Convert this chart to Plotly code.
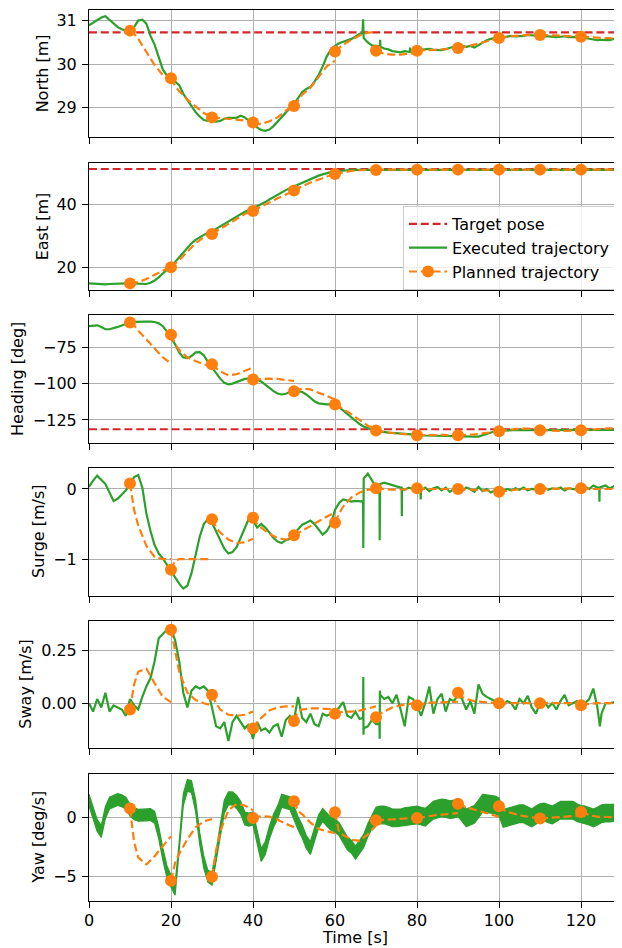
import plotly.graph_objects as go

# ---------------- data ----------------
t_sec = list(range(0, 131))
plan_starts = [10, 20, 30, 40, 50, 60, 70, 80, 90, 100, 110, 120]
marker_times = [10, 20, 30, 40, 50, 60, 70, 80, 90, 100, 110, 120, 130]
seg_offsets = [0, 1, 2, 4, 6, 8, 10]

target_north = 30.73
target_east = 51.2
target_heading = -131.4

north_exec = [30.89, 30.95, 31.03, 31.07, 31.10, 31.02, 30.92, 30.85, 30.80, 30.77,
              30.76, 30.85, 31.00, 31.02, 30.93, 30.65, 30.45, 30.15, 29.88, 29.74,
              29.65, 29.60, 29.52, 29.32, 29.17, 29.03, 28.90, 28.80, 28.72, 28.70,
              28.70, 28.68, 28.70, 28.75, 28.77, 28.77, 28.77, 28.82, 28.78, 28.70,
              28.65, 28.55, 28.49, 28.47, 28.50, 28.58, 28.68, 28.78, 28.88, 28.98,
              29.10, 29.22, 29.36, 29.43, 29.48, 29.60, 29.75, 29.95, 30.18, 30.33,
              30.42, 30.48, 30.52, 30.55, 30.58, 30.63, 30.70, 30.60, 30.50, 30.43,
              30.42, 30.40, 30.36, 30.34, 30.30, 30.28, 30.27, 30.30, 30.28, 30.31,
              30.32, 30.33, 30.33, 30.35, 30.33, 30.33, 30.32, 30.35, 30.37, 30.40,
              30.40, 30.42, 30.40, 30.42, 30.38, 30.44, 30.50, 30.55, 30.58, 30.60,
              30.60, 30.62, 30.64, 30.65, 30.64, 30.64, 30.65, 30.67, 30.66, 30.65,
              30.65, 30.64, 30.64, 30.63, 30.62, 30.63, 30.64, 30.62, 30.62, 30.62,
              30.62, 30.60, 30.58, 30.56, 30.55, 30.56, 30.55, 30.55, 30.58, 30.58,
              30.57]
north_spike_t = [66.7, 66.85, 66.95, 70.95, 71.0, 71.1, 78.25, 78.3, 78.35]
north_spike_v = [30.71, 31.03, 30.62, 30.41, 30.56, 30.40, 30.28, 30.38, 30.29]

east_exec = [14.9, 14.8, 14.7, 14.6, 14.6, 14.7, 14.8, 14.8, 14.9, 14.9,
             14.9, 14.8, 14.7, 14.6, 14.7, 15.1, 15.8, 16.8, 18.0, 19.2,
             20.3, 21.7, 23.2, 24.7, 26.2, 27.6, 28.7, 29.6, 30.3, 30.9,
             31.5, 32.2, 33.0, 33.8, 34.6, 35.4, 36.2, 37.0, 37.6, 38.1,
             38.7, 39.3, 40.0, 40.7, 41.5, 42.3, 43.1, 43.8, 44.5, 45.1,
             45.7, 46.3, 46.9, 47.5, 48.1, 48.6, 49.1, 49.5, 49.9, 50.2,
             50.4, 50.6, 50.7, 50.8, 50.9, 50.9, 51.0, 51.0, 50.9, 50.9,
             50.9, 50.9, 50.9, 50.9, 50.9, 50.9, 50.9, 50.9, 50.9, 50.9,
             50.9, 50.9, 50.9, 50.9, 50.9, 50.9, 50.9, 50.9, 50.9, 50.9,
             50.9, 50.9, 50.9, 50.9, 50.9, 50.9, 50.9, 50.9, 50.9, 50.9,
             50.9, 50.9, 50.9, 50.9, 50.9, 50.9, 50.9, 50.9, 50.9, 50.9,
             50.9, 50.9, 50.9, 50.9, 50.9, 50.9, 50.9, 50.9, 50.9, 50.9,
             50.9, 50.9, 50.9, 50.9, 50.9, 50.9, 50.9, 50.9, 50.9, 50.9,
             50.9]

heading_exec = [-60.5, -60.0, -59.9, -61.0, -62.5, -62.6, -62.0, -61.0, -60.0, -58.8,
                -58.0, -57.5, -57.3, -57.3, -57.3, -57.4, -57.6, -58.5, -60.5, -64.0,
                -68.0, -73.0, -78.5, -82.0, -82.5, -81.0, -78.5, -78.3, -80.5, -85.0,
                -89.0, -93.0, -96.6, -99.5, -100.5, -100.0, -98.9, -97.8, -96.8, -96.5,
                -96.6, -97.2, -98.5, -100.5, -103.0, -105.2, -106.8, -107.5, -107.0, -105.8,
                -105.2, -105.2, -105.8, -107.5, -110.0, -112.2, -113.6, -114.2, -114.3, -114.3,
                -114.6, -116.2, -118.5, -121.0, -123.5, -125.8, -127.8, -129.5, -130.8, -131.8,
                -132.5, -133.0, -133.4, -133.7, -133.9, -134.2, -134.5, -134.8, -135.0, -135.2,
                -135.4, -135.5, -135.7, -135.8, -136.0, -136.0, -136.0, -136.0, -136.0, -136.0,
                -136.1, -136.2, -136.3, -136.4, -136.5, -136.5, -135.5, -134.3, -133.4, -132.8,
                -132.4, -132.2, -132.0, -132.0, -131.9, -131.9, -132.0, -132.0, -131.9, -131.8,
                -131.8, -131.9, -132.0, -132.0, -131.9, -131.9, -131.9, -132.0, -132.0, -131.9,
                -131.9, -131.8, -131.8, -131.9, -132.0, -132.0, -131.9, -131.8, -131.8, -131.9,
                -131.9]

surge_exec = [0.03, 0.12, 0.19, 0.13, 0.07, -0.05, -0.17, -0.14, -0.08, -0.02,
              0.06, 0.17, 0.20, 0.02, -0.35, -0.60, -0.80, -0.92, -0.99, -1.08,
              -1.17, -1.26, -1.35, -1.42, -1.38, -1.20, -0.92, -0.68, -0.50, -0.43,
              -0.48, -0.60, -0.73, -0.85, -0.92, -0.90, -0.83, -0.70, -0.55, -0.42,
              -0.45, -0.55, -0.50, -0.55, -0.62, -0.70, -0.75, -0.77, -0.73, -0.71,
              -0.64, -0.57, -0.51, -0.48, -0.45, -0.50, -0.57, -0.65, -0.60, -0.50,
              -0.30, -0.20, -0.15, -0.16, -0.18, -0.17, -0.18, 0.15, 0.22, 0.12,
              0.03, 0.07, 0.09, 0.07, 0.06, 0.04, 0.02, -0.01, 0.02, 0.00,
              0.01, -0.02, 0.02, -0.03, 0.01, 0.03, -0.02, 0.02, -0.04, 0.00,
              0.01, -0.03, 0.02, 0.00, -0.04, 0.03, -0.03, 0.00, -0.05, -0.02,
              -0.04, -0.03, 0.00, -0.02, 0.01, -0.01, 0.02, -0.02, 0.00, -0.01,
              0.00, 0.02, -0.01, 0.01, 0.00, 0.02, -0.02, 0.01, 0.00, -0.01,
              0.01, 0.03, 0.00, 0.05, 0.02, 0.03, 0.05, 0.01, 0.04, -0.01,
              0.01]
surge_spike_t = [66.85, 66.9, 66.95, 70.85, 70.9, 70.95, 76.25, 76.3, 76.35,
                 80.85, 80.9, 80.95, 124.45, 124.5, 124.55]
surge_spike_v = [-0.18, -0.84, -0.30, 0.04, -0.73, 0.05, 0.02, -0.39, 0.00,
                 0.00, -0.15, 0.00, 0.02, -0.18, 0.02]

sway_exec = [0.00, -0.04, 0.02, -0.02, 0.05, -0.04, -0.01, -0.02, -0.03, -0.06,
             0.02, -0.01, -0.03, 0.03, 0.08, 0.12, 0.20, 0.31, 0.33, 0.35,
             0.36, 0.30, 0.20, 0.05, -0.02, 0.06, 0.08, 0.07, 0.08, 0.06,
             -0.02, -0.11, -0.12, -0.09, -0.18, -0.09, -0.06, -0.09, -0.12, -0.10,
             -0.17, -0.09, -0.13, -0.12, -0.14, -0.11, -0.10, -0.16, -0.08, -0.06,
             -0.08, 0.03, -0.07, -0.09, -0.05, -0.10, -0.11, -0.05, -0.06, -0.05,
             -0.04, -0.02, 0.005, -0.06, -0.07, -0.04, -0.075, -0.12, -0.11, -0.08,
             -0.10, 0.04, 0.02, 0.03, 0.00, 0.04, -0.03, -0.11, 0.03, 0.02,
             -0.01, -0.06, 0.00, 0.08, -0.05, 0.02, 0.045, -0.04, 0.02, 0.01,
             0.04, 0.02, -0.03, 0.01, -0.05, 0.09, 0.045, 0.03, 0.02, 0.01,
             0.00, -0.01, 0.01, 0.00, -0.03, 0.02, 0.00, 0.035, -0.02, -0.05,
             0.00, 0.01, -0.02, 0.00, -0.03, 0.01, 0.04, -0.01, 0.00, 0.01,
             -0.01, 0.00, 0.02, 0.07, -0.02, -0.05, 0.00, 0.00, 0.005, 0.01,
             0.01]
sway_spike_t = [66.85, 66.9, 66.95, 70.85, 70.9, 70.95, 124.6]
sway_spike_v = [-0.07, 0.125, -0.15, -0.10, -0.17, 0.06, -0.11]

yaw_mid = [1.45, 0.4, -0.7, -1.2, 0.4, 1.2, 1.35, 1.5, 1.4, 1.2,
           0.6, 0.3, 0.17, 0.17, 0.2, 0.23, 0.0, -1.3, -3.1, -4.6,
           -5.4, -6.1, -2.6, 1.5, 2.7, 2.6, 1.0, -1.8, -3.8, -5.0,
           -5.2, -3.4, -1.2, 0.9, 1.6, 1.6, 1.3, 0.8, -0.1, -0.2,
           -0.1, -1.6, -3.2, -2.6, -1.3, -0.3, 0.4, 1.4, 1.3, 1.2,
           0.4, -0.5, -1.2, -2.1, -2.6, -1.5, -0.35, 0.2, -0.2, -0.55,
           -0.7, -1.0, -1.6, -2.2, -2.5, -3.0, -2.5, -2.0, -1.1, -0.4,
           0.1, 0.2, 0.2, 0.1, -0.05, -0.05, -0.05, 0.05, 0.1, 0.15,
           0.2, 0.1, 0.0, 0.3, 0.6, 0.7, 0.8, 0.75, 0.65, 0.7,
           0.8, 0.4, -0.06, 0.1, 0.25, 0.7, 1.2, 1.15, 1.1, 1.05,
           0.9, -0.1, 0.0, 0.1, 0.2, 0.3, 0.3, 0.1, -0.05, 0.2,
           0.4, 0.45, 0.3, 0.2, 0.4, 0.6, 0.6, 0.6, 0.6, 0.4,
           0.25, 0.2, 0.1, -0.05, 0.1, 0.3, 0.35, 0.35, 0.37, 0.45,
           0.5]
yaw_spread = [0.5] * 30 + [0.55] * 40 + [0.75] * 61

north_plan = [[30.77, 30.70, 30.58, 30.28, 29.98, 29.75, 29.64],
              [29.68, 29.50, 29.38, 29.19, 29.03, 28.88, 28.78],
              [28.78, 28.77, 28.76, 28.75, 28.73, 28.71, 28.69],
              [28.66, 28.63, 28.63, 28.69, 28.78, 28.92, 29.08],
              [29.04, 29.17, 29.30, 29.46, 29.70, 29.95, 30.08],
              [30.29, 30.37, 30.45, 30.56, 30.66, 30.72, 30.75],
              [30.31, 30.27, 30.24, 30.22, 30.22, 30.24, 30.26],
              [30.31, 30.31, 30.32, 30.33, 30.34, 30.35, 30.36],
              [30.37, 30.38, 30.40, 30.45, 30.50, 30.55, 30.58],
              [30.60, 30.62, 30.63, 30.65, 30.67, 30.68, 30.68],
              [30.67, 30.67, 30.66, 30.66, 30.65, 30.64, 30.63],
              [30.63, 30.63, 30.62, 30.61, 30.60, 30.59, 30.58]]
north_marks = [30.77, 29.68, 28.78, 28.66, 29.04, 30.29, 30.31, 30.31, 30.37, 30.60, 30.67, 30.63, 30.58]

east_plan = [[14.9, 15.0, 15.3, 16.3, 17.6, 18.9, 20.2],
             [20.0, 21.1, 22.3, 25.0, 27.6, 29.6, 31.0],
             [30.6, 31.4, 32.2, 33.9, 35.5, 36.9, 38.1],
             [37.9, 38.6, 39.3, 40.6, 41.9, 43.1, 44.2],
             [44.4, 45.1, 45.7, 46.9, 47.9, 48.8, 49.5],
             [49.6, 49.9, 50.2, 50.6, 50.8, 50.9, 51.0],
             [50.9, 51.0, 51.0, 51.0, 51.0, 51.0, 51.0],
             [51.0, 51.0, 51.0, 51.0, 51.0, 51.0, 51.0],
             [51.0, 51.0, 51.0, 51.0, 51.0, 51.0, 51.0],
             [51.0, 51.0, 51.0, 51.0, 51.0, 51.0, 51.0],
             [51.0, 51.0, 51.0, 51.0, 51.0, 51.0, 51.0],
             [51.0, 51.0, 51.0, 51.0, 51.0, 51.0, 51.0]]
east_marks = [14.9, 20.0, 30.6, 37.9, 44.4, 49.6, 50.9, 51.0, 51.0, 51.0, 51.0, 51.0, 51.0]

heading_plan = [[-58.0, -59.7, -63.5, -69.5, -76.2, -82.0, -86.0],
                [-66.3, -72.5, -77.0, -82.0, -84.5, -86.7, -88.0],
                [-86.7, -89.5, -91.5, -94.3, -93.5, -91.0, -89.0],
                [-97.2, -97.0, -96.8, -96.6, -96.8, -97.5, -98.2],
                [-105.3, -104.2, -103.5, -104.0, -106.0, -108.5, -111.0],
                [-114.4, -115.8, -117.5, -121.0, -125.0, -129.0, -131.0],
                [-132.3, -132.8, -133.2, -134.0, -134.6, -135.0, -135.3],
                [-135.6, -135.5, -135.4, -135.2, -135.3, -135.5, -135.6],
                [-135.6, -135.5, -135.4, -135.0, -134.3, -133.5, -132.7],
                [-132.8, -132.4, -132.0, -131.3, -130.9, -130.8, -131.0],
                [-132.1, -132.2, -132.4, -132.6, -132.6, -132.4, -132.2],
                [-132.1, -132.0, -131.8, -131.4, -131.0, -130.6, -130.3]]
heading_marks = [-58.0, -66.3, -86.7, -97.2, -105.3, -114.4, -132.3, -135.6, -135.6, -132.8, -132.1, -132.1, -132.6]

surge_plan = [[0.08, -0.30, -0.52, -0.81, -0.97, -1.0, -1.0],
              [-1.15, -1.02, -1.0, -1.0, -1.0, -1.0, -1.0],
              [-0.43, -0.55, -0.62, -0.72, -0.77, -0.76, -0.71],
              [-0.41, -0.50, -0.55, -0.64, -0.70, -0.72, -0.70],
              [-0.66, -0.63, -0.60, -0.53, -0.46, -0.40, -0.33],
              [-0.48, -0.35, -0.25, -0.12, -0.05, -0.01, 0.0],
              [0.01, 0.0, 0.0, -0.01, -0.01, 0.0, 0.0],
              [0.01, 0.0, 0.0, 0.0, 0.0, 0.0, 0.0],
              [0.0, 0.0, 0.0, -0.01, -0.02, -0.03, -0.03],
              [-0.04, -0.03, -0.02, -0.01, 0.0, 0.0, 0.0],
              [0.0, 0.0, 0.0, 0.0, 0.0, 0.01, 0.01],
              [0.01, 0.0, 0.0, 0.0, 0.0, 0.0, 0.0]]
surge_marks = [0.08, -1.15, -0.43, -0.41, -0.66, -0.48, 0.01, 0.01, 0.0, -0.04, 0.0, 0.01, -0.01]

sway_plan = [[-0.03, 0.09, 0.15, 0.165, 0.095, 0.03, 0.005],
             [0.35, 0.25, 0.15, 0.05, 0.015, 0.0, -0.01],
             [0.04, 0.0, -0.03, -0.055, -0.06, -0.055, -0.04],
             [-0.12, -0.09, -0.07, -0.035, -0.02, -0.015, -0.015],
             [-0.085, -0.04, -0.03, -0.025, -0.025, -0.027, -0.03],
             [-0.05, -0.045, -0.04, -0.04, -0.035, -0.025, -0.015],
             [-0.067, -0.05, -0.04, -0.02, -0.01, -0.003, 0.0],
             [-0.01, -0.005, 0.0, 0.003, 0.005, 0.006, 0.007],
             [0.05, 0.03, 0.02, 0.01, 0.006, 0.003, 0.0],
             [0.0, 0.0, 0.0, 0.0, 0.0, 0.0, 0.0],
             [0.0, 0.0, 0.0, 0.0, 0.0, 0.001, 0.001],
             [-0.01, -0.005, -0.003, 0.0, 0.0, 0.0, 0.0]]
sway_marks = [-0.03, 0.35, 0.04, -0.12, -0.085, -0.05, -0.067, -0.01, 0.05, 0.0, 0.0, -0.01, 0.025]

yaw_plan = [[0.74, -2.1, -3.4, -4.0, -3.3, -2.4, -1.6],
            [-5.37, -3.85, -3.1, -1.85, -0.85, -0.34, -0.15],
            [-5.03, -2.8, -1.2, 0.6, 1.12, 1.0, 0.6],
            [-0.06, 0.05, 0.1, 0.05, -0.2, -0.55, -0.85],
            [1.36, 0.55, 0.25, -0.45, -1.0, -1.2, -1.35],
            [0.43, -1.25, -1.5, -1.9, -2.0, -1.45, -0.7],
            [-0.26, -0.24, -0.22, -0.15, -0.1, -0.07, -0.05],
            [-0.06, 0.0, 0.05, 0.15, 0.23, 0.3, 0.35],
            [1.14, 1.0, 0.85, 0.65, 0.45, 0.25, 0.05],
            [0.94, 0.65, 0.45, 0.25, 0.1, 0.0, -0.05],
            [-0.11, -0.08, -0.05, 0.0, 0.05, 0.1, 0.1],
            [0.45, 0.3, 0.2, 0.05, 0.0, 0.0, 0.0]]
yaw_marks = [0.74, -5.37, -5.03, -0.06, 1.36, 0.43, -0.26, -0.06, 1.14, 0.94, -0.11, 0.45, 0.37]

y_labels = ["North [m]", "East [m]", "Heading [deg]", "Surge [m/s]", "Sway [m/s]", "Yaw [deg/s]"]
y_ranges = [[28.33, 31.25], [12.8, 53.2], [-140.6, -53.0], [-1.52, 0.295], [-0.215, 0.392], [-7.12, 3.67]]
y_tickvals = [[29, 30, 31], [20, 40], [-125, -100, -75], [-1, 0], [0.0, 0.25], [-5, 0]]
y_ticktext = [["29", "30", "31"], ["20", "40"], ["\u2212125", "\u2212100", "\u221275"],
              ["\u22121", "0"], ["0.00", "0.25"], ["\u22125", "0"]]
x_tickvals = [0, 20, 40, 60, 80, 100, 120]
x_ticktext = ["0", "20", "40", "60", "80", "100", "120"]

# ---------------- layout constants (page pixels; page has an 8px body margin) ----------------
OFF = 8
W, H = 622 - OFF, 948 - OFF
ML = 89 - OFF
PW = W - ML
panel_top_px = [9.7, 162.7, 315.3, 468.3, 621.0, 774.0]
panel_h_px = 127.3
label_x_px = [42, 42, 18, 39, 26, 39]

GREEN = "#2ca02c"
ORANGE = "#ff7f0e"
RED = "#d62728"
DASH = "8px,3.8px"
LW = 2.2
FONT = "DejaVu Sans"
FS = 16


def merged(base, st, sv):
    pts = list(zip(t_sec, base)) + list(zip(st, sv))
    pts.sort(key=lambda p: p[0])
    return [p[0] for p in pts], [p[1] for p in pts]


def plan_xy(segs):
    xs, ys = [], []
    for s, seg in zip(plan_starts, segs):
        xs += [s + o for o in seg_offsets] + [None]
        ys += list(seg) + [None]
    return xs, ys


def ax(i):
    return ("x" if i == 0 else "x%d" % (i + 1)), ("y" if i == 0 else "y%d" % (i + 1))


def px_x(p):
    return (p - OFF - ML) / PW


def px_y(p):
    return 1 - (p - OFF) / H


fig = go.Figure()

execs = [merged(north_exec, north_spike_t, north_spike_v),
         merged(east_exec, [], []),
         merged(heading_exec, [], []),
         merged(surge_exec, surge_spike_t, surge_spike_v),
         merged(sway_exec, sway_spike_t, sway_spike_v),
         None]
targets = [target_north, target_east, target_heading, None, None, None]
plans = [north_plan, east_plan, heading_plan, surge_plan, sway_plan, yaw_plan]
marks = [north_marks, east_marks, heading_marks, surge_marks, sway_marks, yaw_marks]

for i in range(6):
    xa, ya = ax(i)
    if targets[i] is not None:
        fig.add_trace(go.Scatter(x=[0, 130], y=[targets[i], targets[i]], mode="lines",
                                 line=dict(color=RED, width=LW, dash=DASH),
                                 name="Target pose", showlegend=(i == 0),
                                 xaxis=xa, yaxis=ya))
    if execs[i] is not None:
        ex, ey = execs[i]
        fig.add_trace(go.Scatter(x=ex, y=ey, mode="lines",
                                 line=dict(color=GREEN, width=LW),
                                 name="Executed trajectory", showlegend=(i == 0),
                                 xaxis=xa, yaxis=ya))
    else:
        hi = [m + s for m, s in zip(yaw_mid, yaw_spread)]
        lo = [m - s for m, s in zip(yaw_mid, yaw_spread)]
        fig.add_trace(go.Scatter(x=t_sec + t_sec[::-1], y=hi + lo[::-1], mode="lines",
                                 fill="toself", fillcolor=GREEN,
                                 line=dict(color=GREEN, width=1.2),
                                 name="Executed trajectory", showlegend=False,
                                 xaxis=xa, yaxis=ya))
    pxs, pys = plan_xy(plans[i])
    fig.add_trace(go.Scatter(x=pxs, y=pys, mode="lines", connectgaps=False,
                             line=dict(color=ORANGE, width=LW, dash=DASH),
                             showlegend=False, xaxis=xa, yaxis=ya))
    fig.add_trace(go.Scatter(x=marker_times, y=marks[i], mode="markers",
                             marker=dict(color=ORANGE, size=12),
                             showlegend=False, xaxis=xa, yaxis=ya))

# legend-only entry for planned trajectory
fig.add_trace(go.Scatter(x=[None], y=[None], mode="lines+markers",
                         line=dict(color=ORANGE, width=LW, dash=DASH),
                         marker=dict(color=ORANGE, size=12),
                         name="Planned trajectory", xaxis="x2", yaxis="y2"))

layout = dict(
    width=W, height=H,
    margin=dict(l=ML, r=0, t=0, b=0),
    paper_bgcolor="white", plot_bgcolor="white",
    font=dict(family=FONT, size=FS, color="black"),
    showlegend=True,
    legend=dict(x=px_x(403), y=px_y(206), xanchor="left", yanchor="top",
                bgcolor="rgba(255,255,255,0.8)", bordercolor="#cccccc", borderwidth=1,
                font=dict(family=FONT, size=FS), itemwidth=38, traceorder="normal"),
    annotations=[],
)

common = dict(showgrid=True, gridcolor="#b0b0b0", gridwidth=1,
              showline=True, linecolor="black", linewidth=1.1, mirror=True,
              ticks="outside", ticklen=6, tickwidth=1.1, tickcolor="black",
              zeroline=False, automargin=False,
              tickfont=dict(family=FONT, size=FS, color="black"))

for i in range(6):
    k = "" if i == 0 else str(i + 1)
    top = panel_top_px[i]
    dom = [px_y(top + panel_h_px), px_y(top)]
    layout["xaxis" + k] = dict(domain=[0, 1], anchor="y" + k, range=[0, 130],
                               tickmode="array", tickvals=x_tickvals, ticktext=x_ticktext,
                               showticklabels=(i == 5), ticklabelstandoff=-2, **common)
    layout["yaxis" + k] = dict(domain=dom, anchor="x" + k, range=y_ranges[i],
                               tickmode="array", tickvals=y_tickvals[i], ticktext=y_ticktext[i],
                               ticklabelstandoff=2, **common)
    layout["annotations"].append(dict(
        text=y_labels[i], textangle=-90, showarrow=False,
        xref="paper", yref="paper",
        x=px_x(label_x_px[i]), y=px_y(top + panel_h_px / 2),
        xanchor="center", yanchor="middle",
        font=dict(family=FONT, size=FS, color="black")))

layout["annotations"].append(dict(
    text="Time [s]", showarrow=False, xref="paper", yref="paper",
    x=px_x(355), y=px_y(948), xanchor="center", yanchor="bottom", borderpad=0,
    font=dict(family=FONT, size=FS, color="black")))

fig.update_layout(**layout)
fig.write_html("out.html")
